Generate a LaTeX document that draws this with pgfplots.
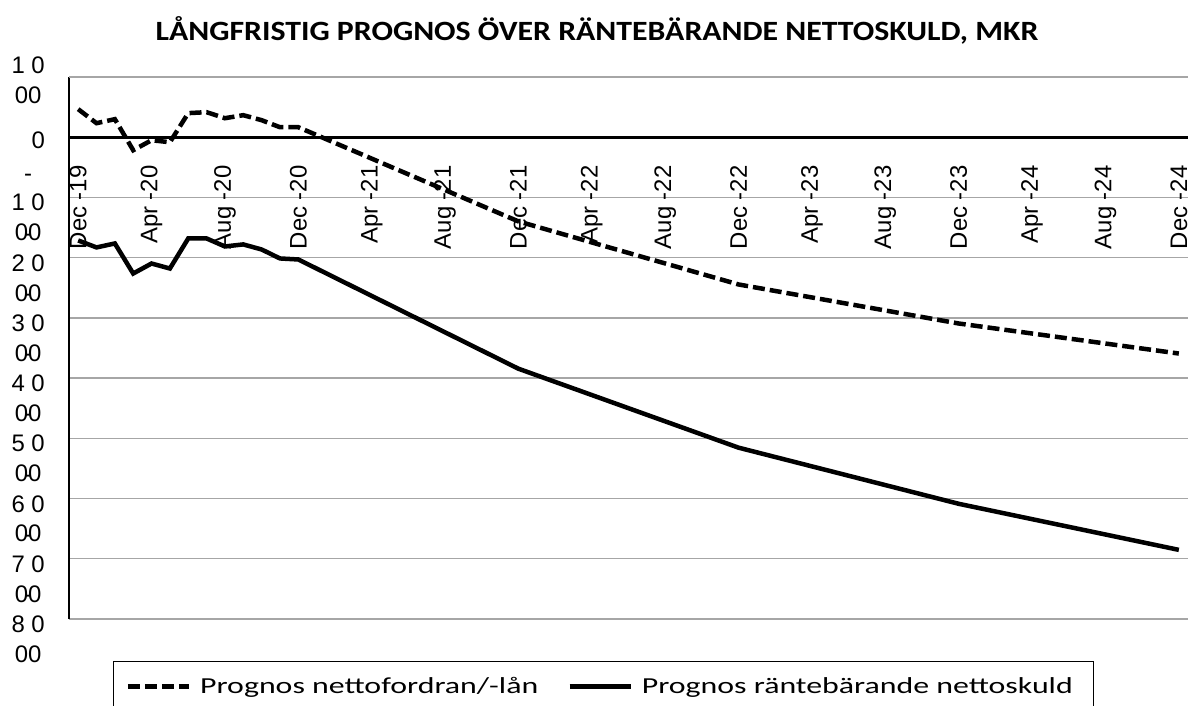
\documentclass[border=0pt]{standalone}
\usepackage{pgfplots}
\pgfplotsset{compat=1.18}
\usepackage{pgfplotstable}
\usepackage{fontspec}
\setmainfont{Liberation Sans}
\newfontfamily\legfont[FakeStretch=1.39]{Carlito}
\newfontfamily\titlefont[FakeStretch=1.14]{Carlito}

\pgfplotstableread{
m fordran skuld
0 466 -1714
1 233 -1830
2 300 -1764
3 -216 -2263
4 -50 -2097
5 -83 -2180
6 400 -1681
7 416 -1681
8 316 -1814
9 366 -1780
10 283 -1864
11 166 -2013
12 166 -2030
24 -1398 -3844
36 -2445 -5155
48 -3093 -6087
60 -3592 -6852
}\prognos

\begin{document}
\begin{tikzpicture}
\begin{axis}[
  scale only axis, width=1119bp, height=542bp,
  xmin=-0.5, xmax=60.5, ymin=-8000, ymax=1000,
  axis x line=middle, axis y line=left,
  axis line style={-},
  x axis line style={line width=3bp, black},
  y axis line style={line width=2bp, black},
  hide obscured x ticks=false, hide obscured y ticks=false,
  major tick length=0pt,
  xtick={0,4,...,60},
  xticklabels={Dec -19, Apr -20, Aug -20, Dec -20, Apr -21, Aug -21, Dec -21, Apr -22, Aug -22, Dec -22, Apr -23, Aug -23, Dec -23, Apr -24, Aug -24, Dec -24},
  xticklabel style={font=\fontsize{24}{29}\selectfont, rotate=90, anchor=east, inner sep=0pt},
  xticklabel shift=28bp,
  ytick={-8000,-7000,...,0},
  yticklabels={{-\\8 0\\00},{-\\7 0\\00},{-\\6 0\\00},{-\\5 0\\00},{-\\4 0\\00},{-\\3 0\\00},{-\\2 0\\00},{-\\1 0\\00},{\raisebox{7bp}[\height][\depth]{\phantom{1}\ 0}}},
  yticklabel style={font=\fontsize{24}{30}\selectfont, align=center, inner sep=0pt, yshift=-10bp},
  yticklabel shift=24bp,
  extra y ticks={1000},
  extra y tick labels={{1 0\\00}},
  extra y tick style={grid=major, yticklabel style={yshift=7bp}},
  ymajorgrids, major grid style={line width=1.3bp, color=black!35},
  title={LÅNGFRISTIG PROGNOS ÖVER RÄNTEBÄRANDE NETTOSKULD, MKR},
  title style={at={(0,1)}, anchor=base, xshift=528bp, yshift=31bp, inner sep=0pt,
    font=\titlefont\bfseries\fontsize{28}{34}\selectfont},
  legend columns=2,
  legend style={at={(0,0)}, anchor=north west, xshift=44bp, yshift=-42bp,
    draw=black, line width=1.3bp, font=\legfont\fontsize{23}{28}\selectfont,
    inner xsep=12bp, inner ysep=14bp,
    /tikz/every odd column/.append style={column sep=7bp},
    /tikz/every even column/.append style={column sep=27bp}},
  legend image code/.code={\draw[#1] (0bp,0bp) -- (61bp,0bp);},
  legend cell align=left,
]
\addplot[black, line width=4.5bp, dash pattern=on 12bp off 5bp] table[x=m, y=fordran] {\prognos};
\addlegendentry{Prognos nettofordran/-lån}
\addplot[black, line width=4.5bp] table[x=m, y=skuld] {\prognos};
\addlegendentry{Prognos räntebärande nettoskuld\rule{7bp}{0pt}}
\end{axis}
\pgfresetboundingbox
\path[use as bounding box] ([xshift=-69bp,yshift=-86bp]current axis.south west) rectangle ([xshift=8bp,yshift=77bp]current axis.north east);
\end{tikzpicture}
\end{document}
